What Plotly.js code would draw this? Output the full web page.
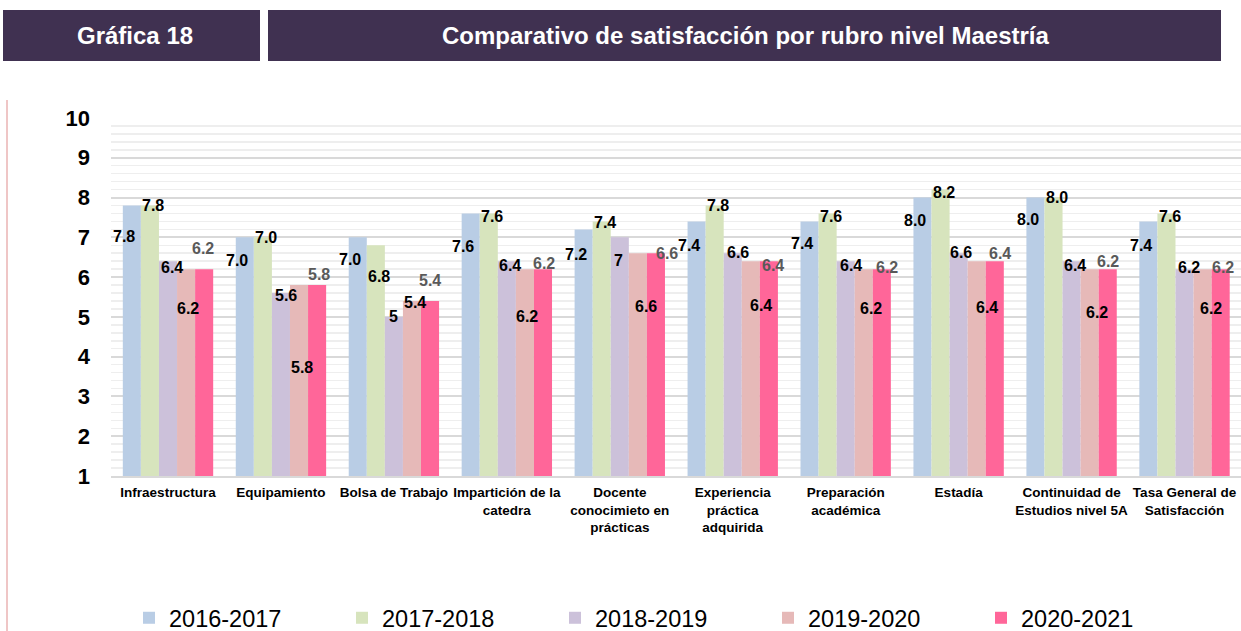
<!DOCTYPE html>
<html>
<head>
<meta charset="utf-8">
<script src="https://cdn.plot.ly/plotly-3.0.1.min.js"></script>
<style>
  html, body { margin: 0; padding: 0; background: #ffffff; }
  #chart { width: 1241px; height: 631px; }
</style>
</head>
<body>
<div id="chart"></div>
<script>
// ---- Data ----
const categories = [
  'Infraestructura',
  'Equipamiento',
  'Bolsa de Trabajo',
  'Impartición de la<br>catedra',
  'Docente<br>conocimieto en<br>prácticas',
  'Experiencia<br>práctica<br>adquirida',
  'Preparación<br>académica',
  'Estadía',
  'Continuidad de<br>Estudios nivel 5A',
  'Tasa General de<br>Satisfacción'
];
const seriesNames = ['2016-2017', '2017-2018', '2018-2019', '2019-2020', '2020-2021'];
const v2016_2017 = [7.8, 7.0, 7.0, 7.6, 7.2, 7.4, 7.4, 8.0, 8.0, 7.4];
const v2017_2018 = [7.8, 7.0, 6.8, 7.6, 7.4, 7.8, 7.6, 8.2, 8.0, 7.6];
const v2018_2019 = [6.4, 5.6, 5.0, 6.4, 7.0, 6.6, 6.4, 6.6, 6.4, 6.2];
const v2019_2020 = [6.2, 5.8, 5.4, 6.2, 6.6, 6.4, 6.2, 6.4, 6.2, 6.2];
const v2020_2021 = [6.2, 5.8, 5.4, 6.2, 6.6, 6.4, 6.2, 6.4, 6.2, 6.2];
const yTicks = [1, 2, 3, 4, 5, 6, 7, 8, 9, 10];
const headerLeft = 'Gráfica 18';
const headerTitle = 'Comparativo de satisfacción por rubro nivel Maestría';

// ---- Styling ----
const seriesValues = [v2016_2017, v2017_2018, v2018_2019, v2019_2020, v2020_2021];
const colors = ['#b9cde5', '#d7e4bd', '#ccc1da', '#e6b9b8', '#ff6699'];
const FONT = 'Liberation Sans, Arial, Helvetica, sans-serif';

// plot area in page pixels
const PL = 111, PT = 118, PW = 1130, PH = 358;
const px2x = p => (p - PL) / PW;
const px2y = p => (PT + PH - p) / PH;

const traces = seriesValues.map((vals, i) => ({
  type: 'bar',
  name: seriesNames[i],
  x: categories,
  y: vals,
  marker: { color: colors[i] },
  hoverinfo: 'x+y+name'
}));

// label placement (pixel offsets from category centre / bar top)
const labelStyle = [
  { dx: Array(10).fill(-44), dy: [-31, -23, -22, -33, -25, -24, -22, -23, -22, -24], color: '#000000', fmt: v => v.toFixed(1) },
  { dx: Array(10).fill(-15), dy: [0, 0, -31, -3, -1, 0, -3, -3, 0, -3], color: '#000000', fmt: v => v.toFixed(1) },
  { dx: [4, 5, 0, 3, -1, 5, 5, 2, 3, 4], dy: [-6, -2, 0, -4, -23, 1, -4, 1, -4, 2], color: '#000000', fmt: v => String(v) },
  { dx: [20, 21, 21, 20, 26, 28, 25, 28, 25, 26], dy: [-39, -82, -2, -47, -53, -44, -39, -46, -43, -39], color: '#000000', fmt: v => v.toFixed(1) },
  { dx: [35, 38, 36, 37, 47, 40, 41, 41, 36, 38], dy: [21, 11, 20, 6, 0, -4, 2, 8, 8, 2], color: '#595959', fmt: v => v.toFixed(1) }
];

const annotations = [];
seriesValues.forEach((vals, s) => {
  vals.forEach((v, k) => {
    annotations.push({
      x: categories[k], y: v, xref: 'x', yref: 'y',
      xshift: labelStyle[s].dx[k], yshift: labelStyle[s].dy[k],
      text: labelStyle[s].fmt(v), showarrow: false,
      xanchor: 'center', yanchor: 'middle',
      font: { family: FONT, size: 16, color: labelStyle[s].color, weight: 'bold' }
    });
  });
});

// header texts
annotations.push({
  xref: 'paper', yref: 'paper', x: px2x(135), y: px2y(36),
  text: headerLeft, showarrow: false, xanchor: 'center', yanchor: 'middle',
  font: { family: FONT, size: 24, color: '#ffffff', weight: 'bold' }
});
annotations.push({
  xref: 'paper', yref: 'paper', x: px2x(745), y: px2y(36),
  text: headerTitle, showarrow: false, xanchor: 'center', yanchor: 'middle',
  font: { family: FONT, size: 24, color: '#ffffff', weight: 'bold' }
});

const shapes = [
  { type: 'rect', xref: 'paper', yref: 'paper', x0: px2x(3), x1: px2x(260), y0: px2y(10), y1: px2y(61),
    fillcolor: '#403151', line: { width: 0 }, layer: 'below' },
  { type: 'rect', xref: 'paper', yref: 'paper', x0: px2x(268), x1: px2x(1221), y0: px2y(10), y1: px2y(61),
    fillcolor: '#403151', line: { width: 0 }, layer: 'below' },
  { type: 'line', xref: 'paper', yref: 'paper', x0: px2x(7), x1: px2x(7), y0: px2y(100), y1: px2y(631),
    line: { color: '#eab3b3', width: 1.5 } }
];

const layout = {
  width: 1241, height: 631,
  margin: { l: PL, r: 1241 - PL - PW, t: PT, b: 631 - PT - PH, pad: 0 },
  paper_bgcolor: '#ffffff', plot_bgcolor: '#ffffff',
  barmode: 'group', bargap: 0.2, bargroupgap: 0,
  font: { family: FONT, color: '#000000' },
  showlegend: true,
  legend: {
    orientation: 'h', x: px2x(129), xanchor: 'left',
    yref: 'container', y: (631 - 618) / 631, yanchor: 'middle',
    font: { family: FONT, size: 23.5, color: '#000000' },
    entrywidth: 168, entrywidthmode: 'pixels', traceorder: 'normal',
    bgcolor: 'rgba(0,0,0,0)'
  },
  xaxis: {
    type: 'category',
    tickfont: { family: FONT, size: 13.5, color: '#000000', weight: 'bold' },
    showline: true, linecolor: '#d9d9d9', linewidth: 2,
    ticks: '', showgrid: false, automargin: false, ticklabelstandoff: 3
  },
  yaxis: {
    range: [1, 10], tickvals: yTicks, ticktext: yTicks.map(String),
    tickfont: { family: FONT, size: 22, color: '#000000', weight: 'bold' },
    showgrid: true, gridcolor: '#d9d9d9', gridwidth: 2,
    minor: { dtick: 0.2, showgrid: true, gridcolor: '#eeeeee', gridwidth: 1.5 },
    zeroline: false, showline: false, ticks: '', ticklabelstandoff: 20,
    automargin: false, fixedrange: true
  },
  annotations: annotations,
  shapes: shapes
};

Plotly.newPlot('chart', traces, layout, { displayModeBar: false, staticPlot: true });
</script>
</body>
</html>
